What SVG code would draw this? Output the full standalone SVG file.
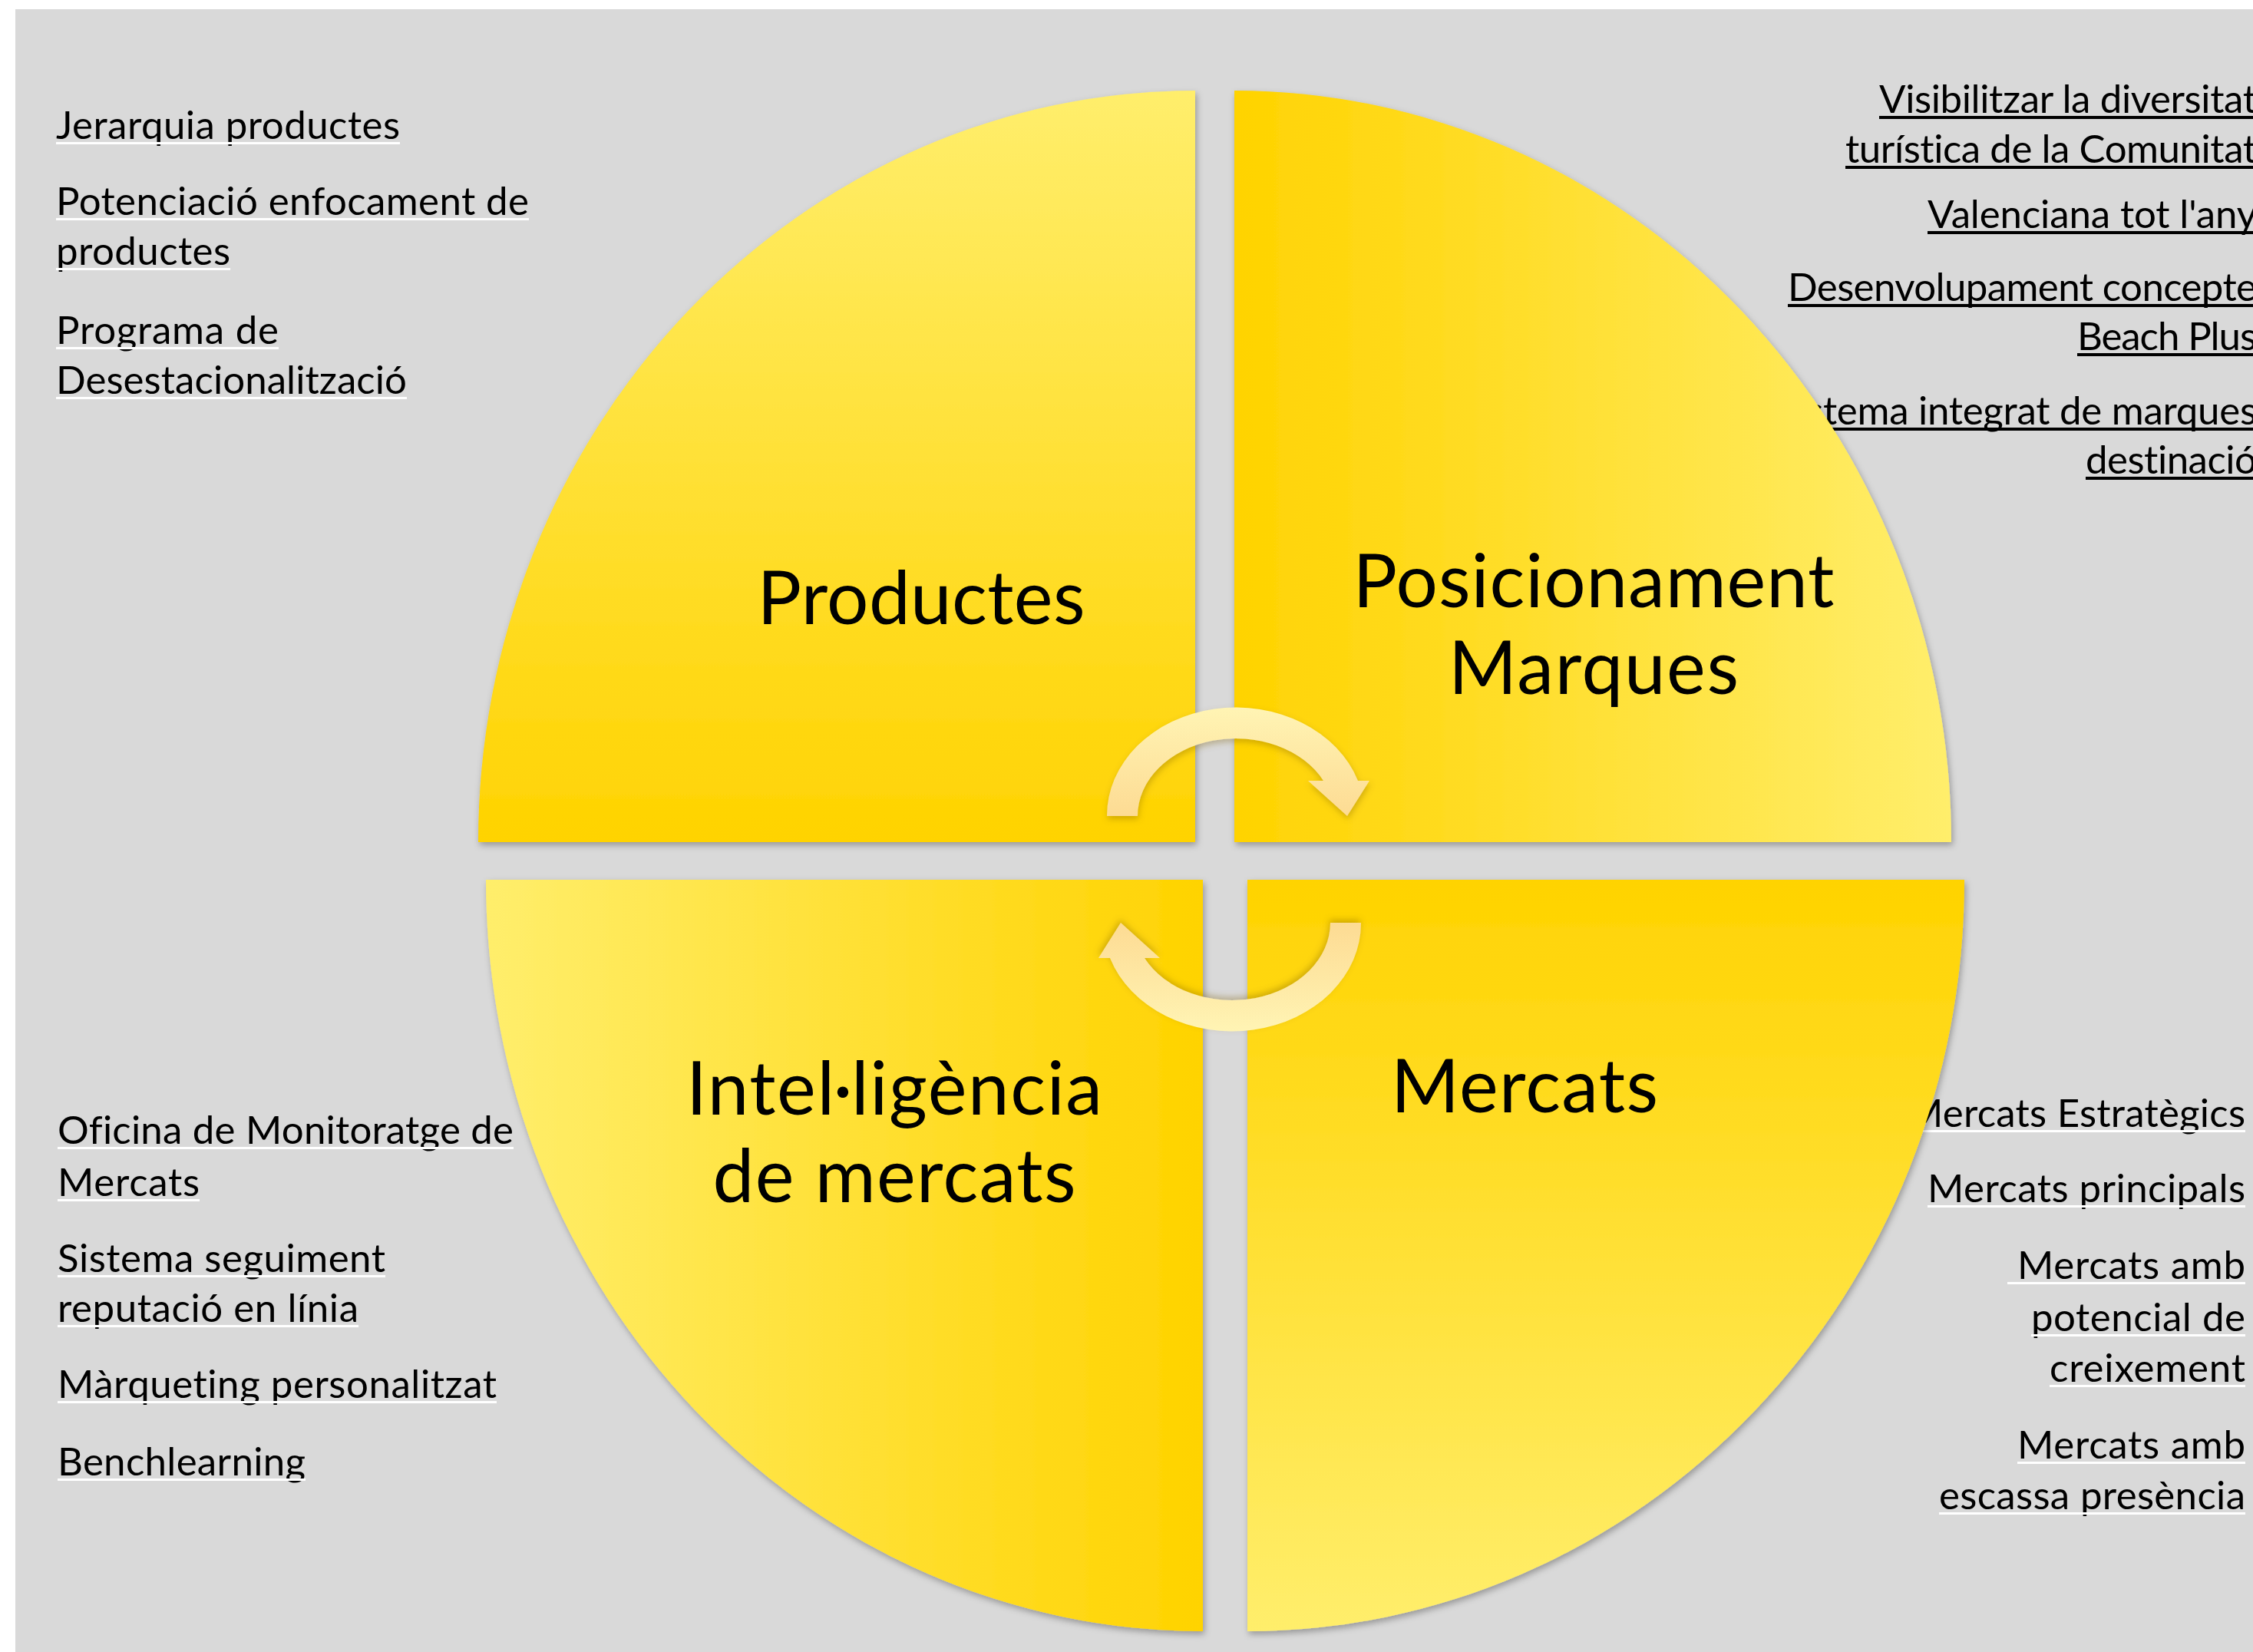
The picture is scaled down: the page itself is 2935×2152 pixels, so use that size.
<svg xmlns="http://www.w3.org/2000/svg" width="2935" height="2152" viewBox="0 0 2935 2152">
<defs>
<style>
.side{font-family:Lato,"Liberation Sans",sans-serif;font-size:51px;fill:#000;font-variant-ligatures:none}
.big{font-family:Lato,"Liberation Sans",sans-serif;font-size:96px;fill:#000;text-anchor:middle;font-variant-ligatures:none}
.end{text-anchor:end}
.ulw{fill:#ffffff}
.ulb{fill:#000000}
.quad{filter:url(#qshadow)}
.arrow{fill:url(#gArrow);filter:url(#ashadow)}
</style>
<linearGradient id="gTL" x1="0" y1="0" x2="0" y2="1"><stop offset="0" stop-color="#FFEE6C"/><stop offset="1" stop-color="#FFD300"/></linearGradient>
<linearGradient id="gTR" x1="0" y1="0" x2="1" y2="0"><stop offset="0" stop-color="#FFD300"/><stop offset="1" stop-color="#FFEE6C"/></linearGradient>
<linearGradient id="gBL" x1="0" y1="0" x2="1" y2="0"><stop offset="0" stop-color="#FFEE6C"/><stop offset="1" stop-color="#FFD300"/></linearGradient>
<linearGradient id="gBR" x1="0" y1="0" x2="0" y2="1"><stop offset="0" stop-color="#FFD300"/><stop offset="1" stop-color="#FFEE6C"/></linearGradient>
<linearGradient id="gArrow" x1="0" y1="0" x2="0" y2="1"><stop offset="0" stop-color="#FFF4B4"/><stop offset="1" stop-color="#FDDB93"/></linearGradient>
<filter id="qshadow" x="-5%" y="-5%" width="115%" height="115%"><feDropShadow dx="2" dy="4" stdDeviation="4" flood-color="#000" flood-opacity="0.3"/></filter>
<filter id="ashadow" x="-10%" y="-10%" width="130%" height="130%"><feDropShadow dx="1" dy="4" stdDeviation="4" flood-color="#7a5a00" flood-opacity="0.35"/></filter>
</defs>

<rect x="0" y="0" width="2935" height="2152" fill="#ffffff"/>
<rect x="20" y="12" width="2915" height="2140" fill="#D9D9D9"/>

<g id="text-productes">
<text class="side" x="73" y="181" textLength="448">Jerarquia productes</text><rect class="ulw" x="73" y="185" width="448" height="3"/>
<text class="side" x="73" y="280" textLength="616">Potenciació enfocament de</text><rect class="ulw" x="73" y="284" width="616" height="3"/>
<text class="side" x="73" y="345" textLength="227">productes</text><rect class="ulw" x="73" y="349" width="227" height="3"/>
<text class="side" x="73" y="448" textLength="290">Programa de</text><rect class="ulw" x="73" y="452" width="290" height="3"/>
<text class="side" x="73" y="513" textLength="457">Desestacionalització</text><rect class="ulw" x="73" y="517" width="457" height="3"/>
</g>

<g id="text-posicionament">
<text class="side end" x="2940" y="147" textLength="492">Visibilitzar la diversitat</text><rect class="ulb" x="2448" y="151" width="492" height="4"/>
<text class="side end" x="2940" y="212" textLength="536">turística de la Comunitat</text><rect class="ulb" x="2404" y="216" width="536" height="4"/>
<text class="side end" x="2940" y="297" textLength="429">Valenciana tot l'any</text><rect class="ulb" x="2511" y="301" width="429" height="4"/>
<text class="side end" x="2940" y="392" textLength="611">Desenvolupament concepte</text><rect class="ulb" x="2329" y="396" width="611" height="4"/>
<text class="side end" x="2940" y="456" textLength="234">Beach Plus</text><rect class="ulb" x="2706" y="460" width="234" height="4"/>
<text class="side end" x="2940" y="553" textLength="626">Sistema integrat de marques</text><rect class="ulb" x="2314" y="557" width="626" height="4"/>
<text class="side end" x="2940" y="617" textLength="223">destinació</text><rect class="ulb" x="2717" y="621" width="223" height="4"/>
</g>

<g id="text-intelligencia">
<text class="side" x="75" y="1490" textLength="594">Oficina de Monitoratge de</text><rect class="ulw" x="75" y="1494" width="594" height="3"/>
<text class="side" x="75" y="1558" textLength="185">Mercats</text><rect class="ulw" x="75" y="1562" width="185" height="3"/>
<text class="side" x="75" y="1657" textLength="427">Sistema seguiment</text><rect class="ulw" x="75" y="1661" width="427" height="3"/>
<text class="side" x="75" y="1722" textLength="392">reputació en línia</text><rect class="ulw" x="75" y="1726" width="392" height="3"/>
<text class="side" x="75" y="1821" textLength="572">Màrqueting personalitzat</text><rect class="ulw" x="75" y="1825" width="572" height="3"/>
<text class="side" x="75" y="1922" textLength="323">Benchlearning</text><rect class="ulw" x="75" y="1926" width="323" height="3"/>
</g>

<g id="text-mercats">
<text class="side end" x="2925" y="1468" textLength="441">Mercats Estratègics</text><rect class="ulw" x="2484" y="1472" width="441" height="3"/>
<text class="side end" x="2925" y="1566" textLength="414">Mercats principals</text><rect class="ulw" x="2511" y="1570" width="414" height="3"/>
<text class="side end" x="2925" y="1666" textLength="297">Mercats amb</text><rect class="ulw" x="2615" y="1670" width="310" height="3"/>
<text class="side end" x="2925" y="1734" textLength="279">potencial de</text><rect class="ulw" x="2646" y="1738" width="279" height="3"/>
<text class="side end" x="2925" y="1800" textLength="255">creixement</text><rect class="ulw" x="2670" y="1804" width="255" height="3"/>
<text class="side end" x="2925" y="1900" textLength="297">Mercats amb</text><rect class="ulw" x="2628" y="1904" width="297" height="3"/>
<text class="side end" x="2925" y="1966" textLength="399">escassa presència</text><rect class="ulw" x="2526" y="1970" width="399" height="3"/>
</g>

<g id="node-productes">
<path class="quad" d="M1557,1097 L623,1097 A934,979 0 0 1 1557,118 Z" fill="url(#gTL)"/>
<text class="big" x="1200" y="813" textLength="427">Productes</text>
</g>

<g id="node-posicionament">
<path class="quad" d="M1608,1097 L1608,118 A934,979 0 0 1 2542,1097 Z" fill="url(#gTR)"/>
<text class="big" x="2076" y="791" textLength="627">Posicionament</text>
<text class="big" x="2076" y="904" textLength="378">Marques</text>
</g>

<g id="node-intelligencia">
<path class="quad" d="M1567,1146 L1567,2125 A934,979 0 0 1 633,1146 Z" fill="url(#gBL)"/>
<text class="big" x="1165" y="1452" textLength="542">Intel·ligència</text>
<text class="big" x="1165" y="1566" textLength="473">de mercats</text>
</g>

<g id="node-mercats">
<path class="quad" d="M1625,1146 L2559,1146 A934,979 0 0 1 1625,2125 Z" fill="url(#gBR)"/>
<text class="big" x="1986" y="1449" textLength="348">Mercats</text>
</g>

<g id="connectors">
<path id="arrow-top" class="arrow" d="M1442,1063 A168,141 0 0 1 1769,1017 L1784,1017 L1755,1063 L1704,1017 L1724,1017 A128,101 0 0 0 1482,1063 Z"/>
<path id="arrow-bottom" class="arrow" transform="rotate(180 1607.5 1132.5)" d="M1442,1063 A168,141 0 0 1 1769,1017 L1784,1017 L1755,1063 L1704,1017 L1724,1017 A128,101 0 0 0 1482,1063 Z"/>
</g>
</svg>
